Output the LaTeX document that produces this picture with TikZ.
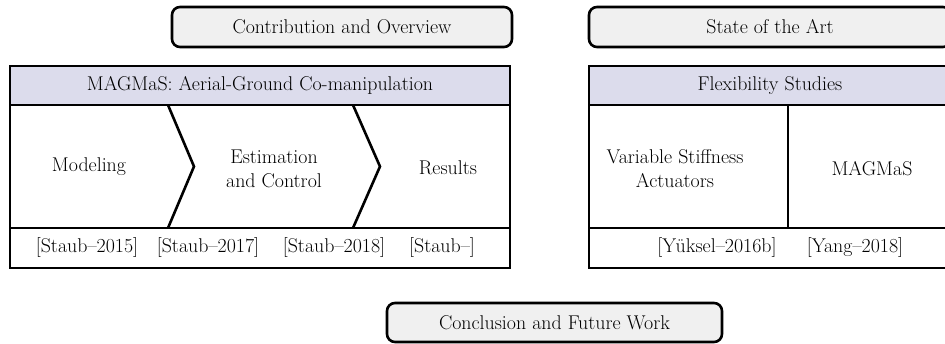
\documentclass[tikz,border=0pt]{standalone}
\usepackage{fontspec}
\definecolor{hdrfill}{RGB}{220,220,236}
\definecolor{boxfill}{RGB}{240,240,240}
\tikzset{
  txt/.style={font=\fontsize{19.9}{24}\selectfont},
  secbox/.style={txt, draw, line width=2.6pt, rounded corners=8pt, fill=boxfill, inner sep=0pt},
  hdrbox/.style={txt, draw, line width=2.6pt, fill=hdrfill, inner sep=0pt},
  cellbox/.style={draw, line width=2.6pt, fill=white, inner sep=0pt},
  lbl/.style={txt, inner sep=0pt, align=center},
  chev/.style={line width=2.6pt, line join=miter}
}
\begin{document}
\begin{tikzpicture}[x=1pt,y=-1pt]
\useasboundingbox (0,0) rectangle (945,344);
\clip (0,0) rectangle (945,344);

% top section boxes
\node[secbox, minimum width=340pt, minimum height=40pt] (contrib) at (342,27) {Contribution and Overview};
\node[secbox, minimum width=362pt, minimum height=40pt] (soa) at (770,27) {State of the Art};

% MAGMaS block
\node[cellbox, minimum width=500pt, minimum height=123pt] (mbody) at (260,166.5) {};
\node[cellbox, minimum width=500pt, minimum height=40pt] (mrefs) at (260,248) {};
\node[hdrbox, minimum width=500pt, minimum height=39pt] (mhead) at (260,85.5) {MAGMaS: Aerial-Ground Co-manipulation};

\coordinate (c1t) at (168,105);
\coordinate (c1m) at (194,166.5);
\coordinate (c1b) at (168,228);
\coordinate (c2t) at (353,105);
\coordinate (c2m) at (380,166.5);
\coordinate (c2b) at (353,228);
\draw[chev] (c1t) -- (c1m) -- (c1b);
\draw[chev] (c2t) -- (c2m) -- (c2b);

\node[lbl] (model) at (89,167) {Modeling};
\node[lbl] (estim) at (274,169) {Estimation\\and Control};
\node[lbl] (res) at (448,168) {Results};

\node[lbl] (r1) at (87,248) {[Staub–2015]};
\node[lbl] (r2) at (208,248) {[Staub–2017]};
\node[lbl] (r3) at (334,248) {[Staub–2018]};
\node[lbl] (r4) at (442,248) {[Staub–]};

% Flexibility block
\node[cellbox, minimum width=199pt, minimum height=123pt] (fleft) at (688.5,166.5) {};
\node[cellbox, minimum width=163pt, minimum height=123pt] (fright) at (869.5,166.5) {};
\node[cellbox, minimum width=362pt, minimum height=40pt] (frefs) at (770,248) {};
\node[hdrbox, minimum width=362pt, minimum height=39pt] (fhead) at (770,85.5) {Flexibility Studies};

\node[lbl] (vsa) at (675,169) {Variable Stiffness\\Actuators};
\node[lbl] (mag) at (872,169) {MAGMaS};

\node[lbl] (r5) at (717,248) {[Yüksel–2016b]};
\node[lbl] (r6) at (855,248) {[Yang–2018]};

% conclusion
\node[secbox, minimum width=335pt, minimum height=39pt] (concl) at (554.5,322.5) {Conclusion and Future Work};
\end{tikzpicture}
\end{document}
